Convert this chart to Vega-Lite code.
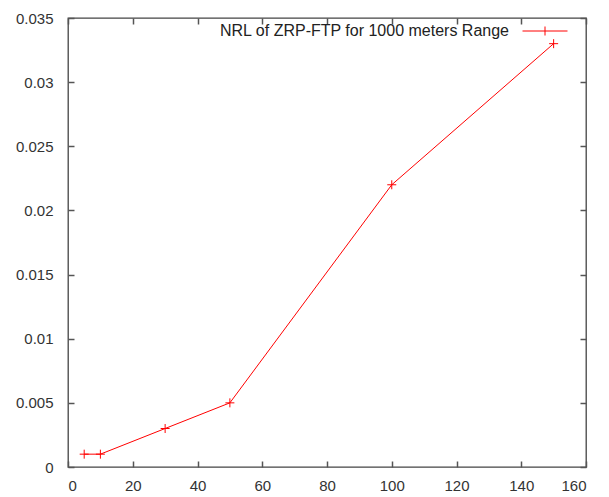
{
  "$schema": "https://vega.github.io/schema/vega-lite/v6.json",
  "autosize": {"type": "none"},
  "padding": {"left": 68, "top": 18, "right": 23, "bottom": 30},
  "width": 518,
  "height": 449,
  "background": "white",
  "config": {
    "view": {"stroke": "#444", "strokeWidth": 1.3},
    "axis": {
      "grid": false,
      "domain": false,
      "labelFont": "Liberation Sans",
      "labelFontSize": 15,
      "labelColor": "#333",
      "title": null
    }
  },
  "data": {
    "values": [
      {"nodes": 5, "nrl": 0.001, "series": "NRL of ZRP-FTP for 1000 meters Range"},
      {"nodes": 10, "nrl": 0.001, "series": "NRL of ZRP-FTP for 1000 meters Range"},
      {"nodes": 30, "nrl": 0.003, "series": "NRL of ZRP-FTP for 1000 meters Range"},
      {"nodes": 50, "nrl": 0.005, "series": "NRL of ZRP-FTP for 1000 meters Range"},
      {"nodes": 100, "nrl": 0.022, "series": "NRL of ZRP-FTP for 1000 meters Range"},
      {"nodes": 150, "nrl": 0.033, "series": "NRL of ZRP-FTP for 1000 meters Range"}
    ]
  },
  "layer": [
    {
      "mark": {"type": "line", "strokeWidth": 1},
      "encoding": {
        "x": {"field": "nodes", "type": "quantitative", "scale": {"domain": [0, 160], "nice": false},
              "axis": {"values": [0, 20, 40, 60, 80, 100, 120, 140, 160], "labelPadding": 11, "orient": "bottom",
                       "ticks": true, "tickSize": 6, "offset": -6, "tickColor": "#555", "tickWidth": 1.5}},
        "y": {"field": "nrl", "type": "quantitative", "scale": {"domain": [0, 0.035], "nice": false},
              "axis": {"values": [0, 0.005, 0.01, 0.015, 0.02, 0.025, 0.03, 0.035], "format": "~g", "labelPadding": 15, "orient": "left",
                       "ticks": true, "tickSize": 6, "offset": -6, "tickColor": "#555", "tickWidth": 1.5}},
        "color": {"field": "series", "type": "nominal", "scale": {"range": ["#ff0000"]},
                  "legend": {"title": null, "orient": "none", "legendX": 454, "legendY": -10, "padding": 0,
                             "symbolType": "M-1,0L1,0M0,-0.2L0,0.2", "symbolSize": 2025,
                             "symbolStrokeColor": "#ff0000", "symbolStrokeWidth": 1, "symbolFillColor": "transparent",
                             "labelFont": "Liberation Sans", "labelFontSize": 16, "labelColor": "#222",
                             "labelAlign": "right", "labelOffset": -59, "labelLimit": 400}}
      }
    },
    {
      "mark": {"type": "point", "shape": "M-1,0L1,0M0,-1L0,1", "size": 81, "filled": false, "color": "#ff0000", "strokeWidth": 1, "opacity": 1},
      "encoding": {
        "x": {"field": "nodes", "type": "quantitative", "axis": null},
        "y": {"field": "nrl", "type": "quantitative", "axis": null}
      }
    },
    {
      "mark": {"type": "point", "opacity": 0},
      "encoding": {
        "x": {"field": "nodes", "type": "quantitative",
              "axis": {"orient": "top", "labels": false, "values": [0, 20, 40, 60, 80, 100, 120, 140, 160],
                       "ticks": true, "tickSize": 6, "offset": -6, "tickColor": "#555", "tickWidth": 1.5}},
        "y": {"field": "nrl", "type": "quantitative",
              "axis": {"orient": "right", "labels": false, "values": [0, 0.005, 0.01, 0.015, 0.02, 0.025, 0.03, 0.035],
                       "ticks": true, "tickSize": 6, "offset": -6, "tickColor": "#555", "tickWidth": 1.5}}
      }
    }
  ],
  "resolve": {"axis": {"x": "independent", "y": "independent"}}
}
